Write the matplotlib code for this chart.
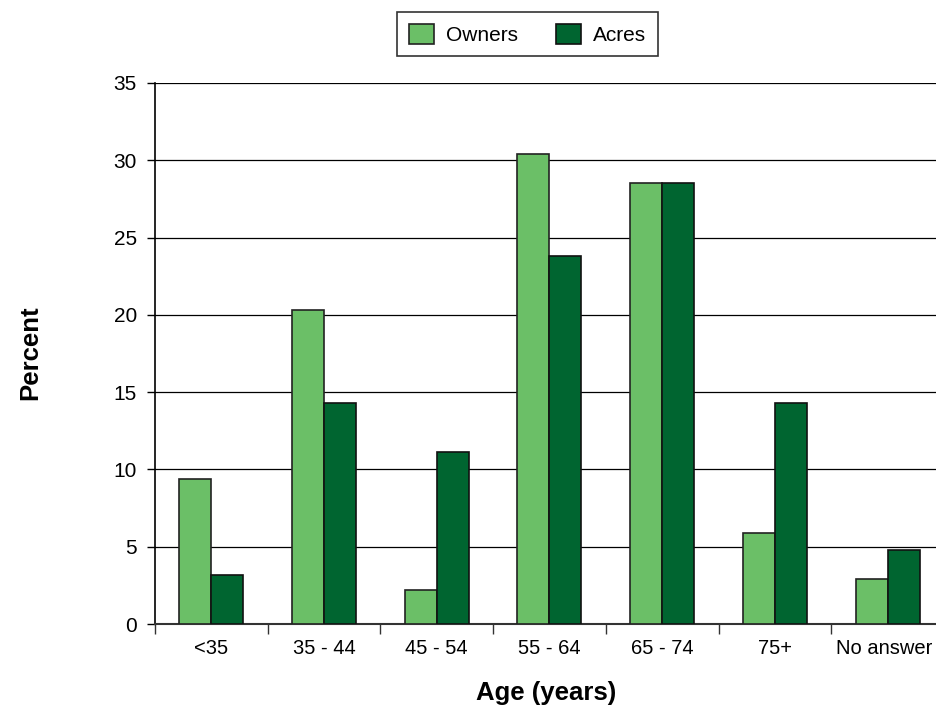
import matplotlib
matplotlib.use("Agg")
import matplotlib.pyplot as plt
import matplotlib.transforms as mtransforms
import numpy as np

plt.rcParams['font.family'] = ['Liberation Sans', 'DejaVu Sans']

categories = ['<35', '35 - 44', '45 - 54', '55 - 64', '65 - 74', '75+', 'No answer']
owners = [9.4, 20.3, 2.2, 30.4, 28.5, 5.9, 2.9]
acres = [3.2, 14.3, 11.1, 23.8, 28.5, 14.3, 4.8]

LIGHT = '#6bbf67'
DARK = '#006530'

fig = plt.figure(figsize=(9.37, 7.13), dpi=100)
ax = fig.add_axes([0.1654, 0.1248, 0.842, 0.7588])

x = np.arange(len(categories))
w = 0.284
ax.bar(x - w/2, owners, w, color=LIGHT, edgecolor='#222222', linewidth=1.2,
       label='Owners', zorder=3)
ax.bar(x + w/2, acres, w, color=DARK, edgecolor='#111111', linewidth=1.2,
       label='Acres', zorder=3)

ax.set_xlim(-0.5, len(categories) - 0.5)
ax.set_ylim(0, 35)
ax.set_yticks(range(0, 36, 5))
ax.yaxis.grid(True, color='black', linewidth=0.9, zorder=0)
ax.set_axisbelow(True)

# ticks between the groups, labels at group centres
ax.set_xticks(np.arange(-0.5, len(categories), 1.0))
ax.set_xticklabels([])
ax.set_xticks(x, minor=True)
ax.set_xticklabels(categories, minor=True, fontsize=14.5)
ax.tick_params(axis='x', which='minor', length=0, pad=11)
ax.tick_params(axis='x', which='major', length=7, width=1, color='#333333')
ax.tick_params(axis='y', length=6, width=1, labelsize=15, pad=7)

# last label sits right at the figure edge, nudge it in a little
lbl = ax.get_xticklabels(minor=True)[-1]
lbl.set_transform(lbl.get_transform() +
                  mtransforms.ScaledTranslation(-3/100, 0, fig.dpi_scale_trans))

for s in ['top', 'right']:
    ax.spines[s].set_visible(False)
ax.spines['left'].set_linewidth(1.2)
ax.spines['bottom'].set_linewidth(1.5)
ax.spines['bottom'].set_color('#333333')

fig.text(0.032, 0.505, 'Percent', rotation=90, ha='center', va='center',
         fontsize=18.5, fontweight='bold')
fig.text(0.583, 0.028, 'Age (years)', ha='center', va='center',
         fontsize=18.5, fontweight='bold')

leg = fig.legend(loc='center', bbox_to_anchor=(0.563, 0.952), ncol=2,
                 frameon=True, fancybox=False, fontsize=15, handlelength=1.2,
                 handleheight=1.1, handletextpad=0.6, columnspacing=1.8,
                 borderpad=0.55, edgecolor='black')
leg.get_frame().set_linewidth(1.2)

fig.savefig('out.png', dpi=100)
